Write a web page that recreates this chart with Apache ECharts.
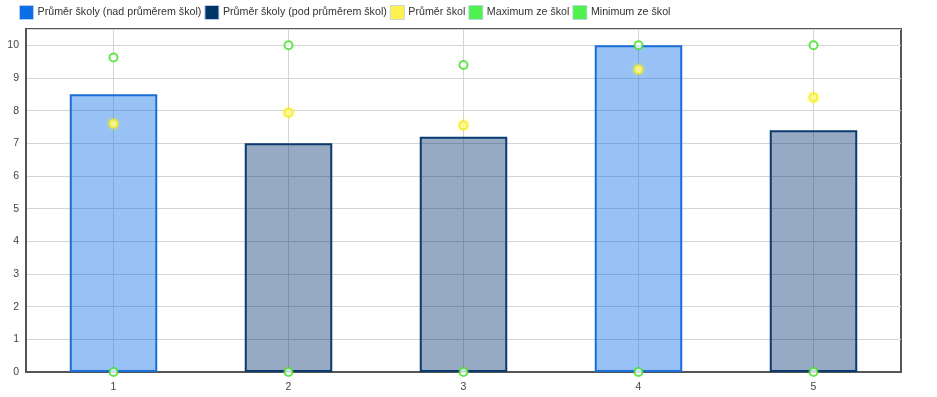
<!DOCTYPE html>
<html><head><meta charset="utf-8">
<script src="https://cdn.jsdelivr.net/npm/echarts@6/dist/echarts.min.js"></script>
<style>html,body{margin:0;padding:0;background:#fff}#c{width:937px;height:397px}</style>
</head><body><div id="c"></div>
<script>
const categories = ['1','2','3','4','5'];
const above = [8.5, '-', '-', 10, '-'];
const below = ['-', 7.0, 7.2, '-', 7.4];
const avgAll = [7.6, 7.94, 7.55, 9.26, 8.4];
const maxAll = [9.63, 10, 9.4, 10, 10];
const minAll = [0, 0, 0, 0, 0];
const names = ['Průměr školy (nad průměrem škol)','Průměr školy (pod průměrem škol)','Průměr škol','Maximum ze škol','Minimum ze škol'];

const chart = echarts.init(document.getElementById('c'), null, {renderer:'canvas'});
chart.setOption({
  animation:false,
  legend:{
    left:14, top:0, itemWidth:14, itemHeight:14, itemGap:3,
    icon:'rect',
    textStyle:{fontFamily:'Liberation Sans', fontSize:10.7, color:'#333', padding:[0,0,0,-1]},
    data:[
      {name:names[0], itemStyle:{color:'#0a6ee6', borderColor:'#b9cde6', borderWidth:1}},
      {name:names[1], itemStyle:{color:'#003366', borderColor:'#b9cde6', borderWidth:1}},
      {name:names[2], itemStyle:{color:'#ffee22', borderColor:'#b9cde6', borderWidth:1}},
      {name:names[3], itemStyle:{color:'#22ee22', borderColor:'#b9cde6', borderWidth:1}},
      {name:names[4], itemStyle:{color:'#22ee22', borderColor:'#b9cde6', borderWidth:1}}
    ]
  },
  grid:{left:26, right:36, top:29, bottom:25, show:true, borderColor:'#555', borderWidth:2, backgroundColor:'transparent'},
  xAxis:{
    type:'category', data:categories,
    axisLine:{lineStyle:{color:'#555', width:2}},
    axisTick:{show:false},
    axisLabel:{color:'#444', fontSize:10.5, fontFamily:'Liberation Sans', margin:10},
    splitLine:{show:true, alignWithLabel:true, lineStyle:{color:'#d4d4d4', width:1}}
  },
  yAxis:{
    type:'value', min:0, max:10.5, interval:1,
    axisLine:{show:true, lineStyle:{color:'#555', width:2}},
    axisTick:{show:false},
    axisLabel:{color:'#444', fontSize:10.5, fontFamily:'Liberation Sans', margin:7, showMaxLabel:false,
      formatter:v=> (v>10?'':v)},
    splitLine:{lineStyle:{color:'#d4d4d4', width:1}}
  },
  series:[
    {name:names[0], type:'bar', data:above, barWidth:'50%', barGap:'-100%',
      itemStyle:{color:'rgba(10,110,230,0.42)', borderColor:'#1a6fd6', borderWidth:2}},
    {name:names[1], type:'bar', data:below, barWidth:'50%', barGap:'-100%',
      itemStyle:{color:'rgba(0,51,110,0.41)', borderColor:'#0b3a70', borderWidth:2}},
    {name:names[2], type:'scatter', data:avgAll, symbol:'circle', symbolSize:8, z:5,
      itemStyle:{color:'#fffbb0', borderColor:'#f0ec20', borderWidth:2, shadowBlur:4, shadowColor:'rgba(255,240,0,0.5)'}},
    {name:names[3], type:'scatter', data:maxAll, symbol:'circle', symbolSize:8, z:6,
      itemStyle:{color:'#ffffff', borderColor:'#3ee022', borderWidth:2}},
    {name:names[4], type:'scatter', data:minAll, symbol:'circle', symbolSize:8, z:6,
      itemStyle:{color:'#ffffff', borderColor:'#3ee022', borderWidth:2}}
  ]
});
</script></body></html>
